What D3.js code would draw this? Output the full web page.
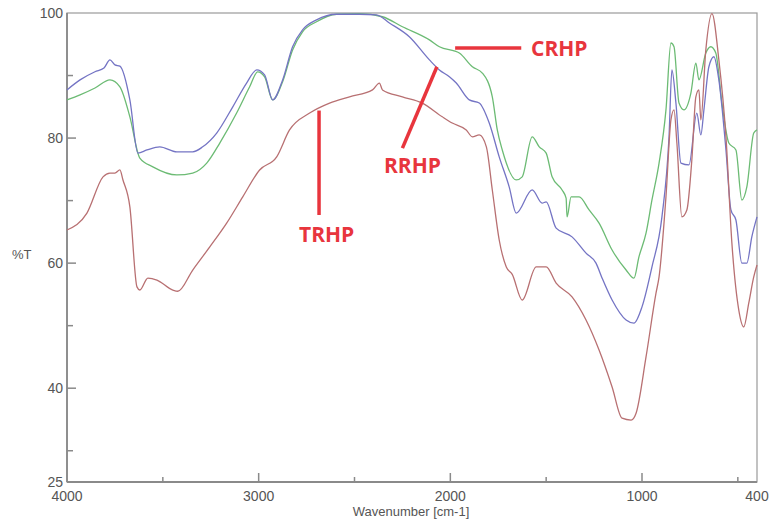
<!DOCTYPE html>
<html><head><meta charset="utf-8">
<script src="https://cdn.jsdelivr.net/npm/d3@7"></script>
<style>body{margin:0;background:#fff}svg{display:block}</style>
</head><body>
<svg id="c" width="770" height="527"></svg>
<script>
// Wavenumber (cm-1) and %T for each spectrum
const rrhpWn = [4000,3932,3854,3807,3776,3750,3724,3672,3630,3583,3516,3427,3344,3292,3219,3135,3063,3010,2969,2927,2875,2823,2771,2698,2594,2474,2385,2318,2214,2109,2057,2005,1969,1901,1849,1797,1745,1693,1656,1573,1521,1500,1448,1365,1292,1240,1208,1156,1083,1042,1000,948,896,859,844,823,797,755,714,693,677,651,625,599,562,536,510,479,453,427,400];
const rrhpT  = [87.7,89.3,90.6,91.2,92.5,91.7,91.5,86.1,77.6,78.1,78.6,77.8,77.8,78.6,80.8,85.0,88.8,90.9,90.1,86.1,89.3,94.6,97.3,98.9,99.8,99.8,99.7,98.4,96.2,92.5,90.9,89.8,88.8,86.1,85.6,82.4,77.0,72.2,68.0,71.7,69.6,69.8,65.6,64.2,61.6,60.0,57.6,54.1,50.9,50.4,53.0,59.4,67.4,80.2,90.9,85.6,76.0,75.7,84.0,80.5,84.5,91.4,93.0,89.3,78.1,68.5,66.9,60.0,60.0,64.2,67.4];

const crhpWn = [4000,3932,3854,3776,3724,3672,3620,3552,3427,3344,3271,3203,3115,3047,3005,2969,2927,2875,2823,2771,2698,2594,2474,2354,2250,2109,2057,1953,1885,1833,1781,1755,1729,1656,1625,1573,1536,1500,1469,1417,1396,1391,1370,1328,1276,1224,1156,1083,1042,1016,979,948,911,875,849,833,807,781,745,719,703,667,641,615,583,547,510,479,453,417,400];
const crhpT  = [86.1,86.9,88.0,89.3,88.2,83.4,76.8,75.4,74.1,74.4,76.0,79.2,84.0,88.2,90.6,89.8,86.1,89.0,94.1,97.0,98.6,99.8,99.9,99.4,97.8,95.7,94.6,93.6,91.4,90.4,86.6,81.3,78.1,73.3,73.8,80.2,78.6,77.6,73.8,71.7,70.4,67.4,70.6,70.6,68.5,66.4,62.1,58.9,57.6,61.0,64.8,70.1,76.0,84.5,95.2,94.6,85.6,84.5,87.2,92.0,89.3,93.6,94.6,93.6,85.6,79.2,78.1,70.1,72.2,80.8,81.3];

const trhpWn = [4000,3896,3812,3776,3750,3724,3708,3672,3635,3620,3578,3531,3448,3422,3344,3255,3167,3083,2995,2906,2839,2734,2630,2526,2406,2370,2354,2250,2146,2042,1990,1917,1885,1849,1812,1781,1745,1708,1677,1625,1552,1500,1448,1365,1292,1224,1156,1104,1057,1031,979,927,911,875,849,833,818,792,766,740,719,703,693,667,635,599,562,531,495,469,443,417,400];
const trhpT  = [65.3,68.0,73.8,74.4,74.4,74.9,73.3,69.0,56.2,55.7,57.6,57.3,55.7,55.5,58.9,62.6,66.4,70.6,74.9,77.0,81.3,84.0,85.6,86.6,87.7,88.8,87.7,86.6,85.6,83.4,82.4,81.3,80.2,80.5,78.6,71.7,63.7,59.4,58.2,54.1,59.4,59.4,56.8,54.6,50.9,46.1,40.2,35.2,34.9,36.0,45.0,55.2,57.8,70.6,82.9,84.5,79.2,67.4,68.5,76.5,86.6,87.7,82.9,94.1,99.9,92.5,80.2,63.2,52.5,49.8,53.6,57.8,59.7];

const xMajor = [4000,3000,2000,1000,400];
const xMinor = [3500,2500,1500,500];
const yMajor = [100,80,60,40,25];
const yMinor = [90,70,50,30];

const series = [
  {name:"CRHP", wn:crhpWn, t:crhpT, color:"#6cbb74"},
  {name:"RRHP", wn:rrhpWn, t:rrhpT, color:"#7474c4"},
  {name:"TRHP", wn:trhpWn, t:trhpT, color:"#b87072"}
];

const svg = d3.select("#c");
const L=67, R=757, T=13, B=482;
const x = d3.scaleLinear().domain([4000,400]).range([L,R]);
const y = d3.scaleLinear().domain([25,100]).range([B,T]);
const axisColor = "#8a8a8a", textColor = "#555";

// frame
svg.append("rect").attr("x",L).attr("y",T).attr("width",R-L).attr("height",B-T)
  .attr("fill","none").attr("stroke","#9a9a9a").attr("stroke-width",1.2);
svg.append("line").attr("x1",L).attr("x2",L).attr("y1",T).attr("y2",B).attr("stroke",axisColor).attr("stroke-width",1.8);
svg.append("line").attr("x1",L).attr("x2",R).attr("y1",B).attr("y2",B).attr("stroke",axisColor).attr("stroke-width",1.8);

// y ticks (inward)
yMajor.forEach(v=>{
  if(v!==100 && v!==25) svg.append("line").attr("x1",L).attr("x2",L+9).attr("y1",y(v)).attr("y2",y(v)).attr("stroke",axisColor).attr("stroke-width",1.5);
  svg.append("text").attr("x",L-4).attr("y",y(v)+5).attr("text-anchor","end")
    .attr("font-family","Liberation Sans, Arial, sans-serif").attr("font-size",14).attr("fill",textColor).text(v);
});
yMinor.forEach(v=>{
  svg.append("line").attr("x1",L).attr("x2",L+6).attr("y1",y(v)).attr("y2",y(v)).attr("stroke",axisColor).attr("stroke-width",1.5);
});
// x ticks (inward)
xMajor.forEach(v=>{
  if(v!==4000 && v!==400) svg.append("line").attr("x1",x(v)).attr("x2",x(v)).attr("y1",B).attr("y2",B-9).attr("stroke",axisColor).attr("stroke-width",1.5);
  svg.append("text").attr("x",x(v)).attr("y",B+19).attr("text-anchor","middle")
    .attr("font-family","Liberation Sans, Arial, sans-serif").attr("font-size",14).attr("fill",textColor).text(v);
});
xMinor.forEach(v=>{
  svg.append("line").attr("x1",x(v)).attr("x2",x(v)).attr("y1",B).attr("y2",B-5).attr("stroke",axisColor).attr("stroke-width",1.5);
});

svg.append("text").attr("x",411).attr("y",516).attr("text-anchor","middle")
  .attr("font-family","Liberation Sans, Arial, sans-serif").attr("font-size",13).attr("fill",textColor).text("Wavenumber [cm-1]");
svg.append("text").attr("x",12).attr("y",259)
  .attr("font-family","Liberation Sans, Arial, sans-serif").attr("font-size",13).attr("fill",textColor).text("%T");

// curves
const line = d3.line().x(d=>x(d[0])).y(d=>y(d[1])).curve(d3.curveMonotoneX);
series.forEach(s=>{
  const pts = s.wn.map((w,i)=>[w,s.t[i]]);
  svg.append("path").attr("d",line(pts)).attr("fill","none").attr("stroke",s.color).attr("stroke-width",1.3);
});

// annotations
const red = "#e8353d";
const ann = svg.append("g").attr("stroke",red).attr("stroke-width",3.5);
ann.append("line").attr("x1",x(1975)).attr("y1",y(94.4)).attr("x2",x(1630)).attr("y2",y(94.4));
ann.append("line").attr("x1",x(2070)).attr("y1",y(91.4)).attr("x2",x(2250)).attr("y2",y(78.4));
ann.append("line").attr("x1",x(2685)).attr("y1",y(84.4)).attr("x2",x(2685)).attr("y2",y(67.7));
const tf = "Open Sans, DejaVu Sans, sans-serif";
svg.append("text").attr("x",531).attr("y",56).attr("font-family",tf).attr("font-weight","bold").attr("font-size",21).attr("fill",red).text("CRHP");
svg.append("text").attr("x",384).attr("y",173).attr("font-family",tf).attr("font-weight","bold").attr("font-size",21).attr("fill",red).text("RRHP");
svg.append("text").attr("x",299).attr("y",242).attr("font-family",tf).attr("font-weight","bold").attr("font-size",21).attr("fill",red).text("TRHP");
</script>
</body></html>
